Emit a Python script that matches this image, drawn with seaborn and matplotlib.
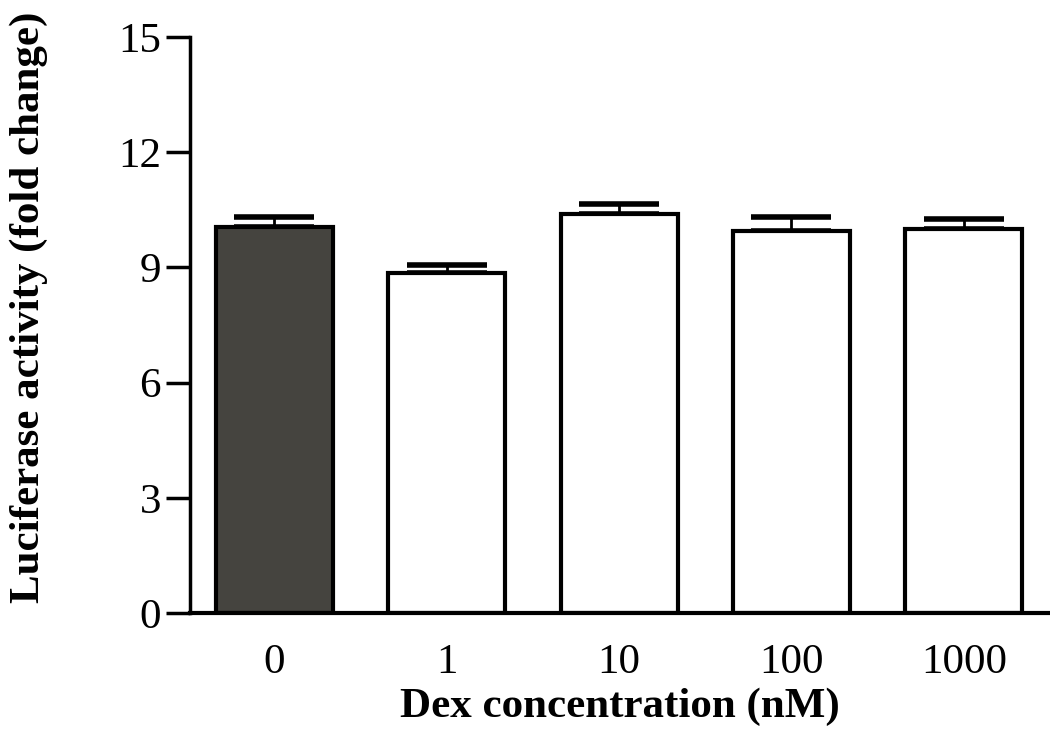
import pandas as pd
import matplotlib.pyplot as plt
import seaborn as sns

# Dex dose response
dex_labels = ["0", "1", "10", "100", "1000"]
fold_change = [10.05, 8.85, 10.38, 9.95, 10.0]
sem = [0.27, 0.21, 0.27, 0.36, 0.26]
bar_colors = ["#45443f", "white", "white", "white", "white"]

sns.set_style("ticks", {"text.color": "black", "axes.labelcolor": "black",
                        "xtick.color": "black", "ytick.color": "black",
                        "axes.edgecolor": "black"})
plt.rcParams['font.family'] = ['Liberation Serif', 'DejaVu Serif']

df = pd.DataFrame({"Dex": dex_labels, "Fold": fold_change})

fig = plt.figure(figsize=(10.5, 7.37), dpi=100)
ax = fig.add_axes([0.181, 0.168, 0.819, 0.782])

sns.barplot(data=df, x="Dex", y="Fold", hue="Dex", palette=bar_colors,
            width=0.68, edgecolor="black", linewidth=3, errorbar=None,
            legend=False, ax=ax, saturation=1, zorder=2)

# upper error only; the lower cap sits hidden under the bar top
xs = range(len(dex_labels))
ax.errorbar(xs, fold_change, yerr=[[0] * len(sem), sem], fmt="none",
            ecolor="black", elinewidth=2, capsize=29, capthick=4, zorder=1)

ax.set_ylim(0, 15)
ax.set_xlim(-0.49, 4.5)
ax.set_yticks([0, 3, 6, 9, 12, 15])
ax.tick_params(axis="y", labelsize=31, length=17, width=2.5, pad=4)
ax.tick_params(axis="x", labelsize=31, length=0, pad=22)
for s in ["top", "right"]:
    ax.spines[s].set_visible(False)
ax.spines["left"].set_linewidth(2.5)
ax.spines["bottom"].set_linewidth(3)

ax.set_xlabel("Dex concentration (nM)", fontsize=31, fontweight="bold", labelpad=4)
ax.set_ylabel("Luciferase activity (fold change)", fontsize=31, fontweight="bold")
ax.yaxis.set_label_coords(-0.165, 0.53)

fig.savefig("out.png", dpi=100)
